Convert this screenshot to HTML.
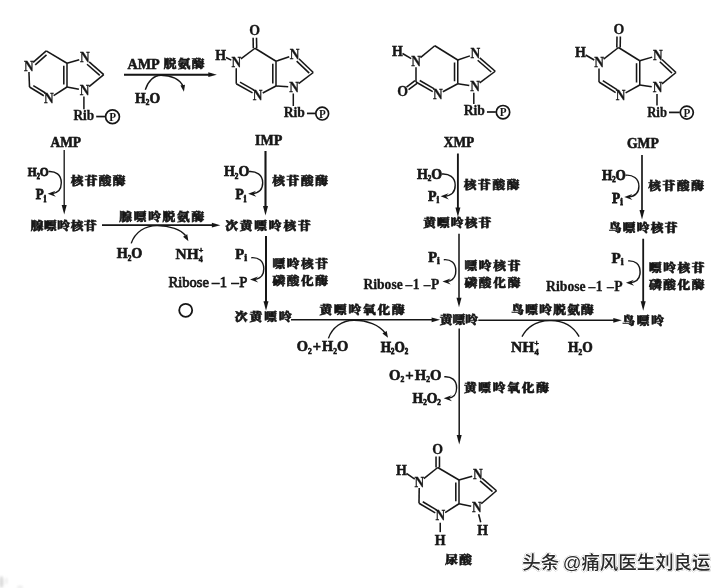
<!DOCTYPE html>
<html lang="zh"><head><meta charset="utf-8"><title>嘌呤核苷酸的分解代谢</title>
<style>
html,body{margin:0;padding:0;background:#fff;}
svg{display:block}
svg line,svg path,svg circle{stroke:#161616;stroke-linecap:butt}
text{fill:#161616;font-family:"Liberation Serif","Noto Serif CJK SC",serif;}
.lb{font-size:15px;font-weight:bold;stroke:#161616;stroke-width:.6px}
.l{font-size:12px;font-weight:bold;stroke:#161616;stroke-width:.5px}
.r{font-size:14.5px;stroke:#161616;stroke-width:.75px}
.rb{font-weight:bold;stroke-width:.3px}
.rib{font-size:13.8px;font-weight:bold;stroke:#161616;stroke-width:.3px}
.at.ath{font-size:15.5px;stroke-width:.5px}
.pin{font-size:12px;font-weight:bold}
.at{font-size:14.5px;font-weight:bold;stroke:#161616;stroke-width:.3px}
.c{font-family:"Noto Serif CJK SC","Liberation Serif",serif;font-size:12.7px;font-weight:900;stroke:#161616;stroke-width:.7px}
.wm{font-family:"Liberation Sans","Noto Sans CJK SC",sans-serif;font-size:18.45px;font-weight:500;fill:#2a2a2a;paint-order:stroke;stroke:#fff;stroke-width:2.2px;stroke-linejoin:round;filter:drop-shadow(0.9px 0.9px 0.5px rgba(0,0,0,.5))}
</style></head>
<body>
<svg width="728" height="588" viewBox="0 0 728 588">
<defs><filter id="soft" x="0" y="0" width="100%" height="100%"><feGaussianBlur stdDeviation="0.4"/></filter><filter id="soft2" x="-100%" y="-100%" width="300%" height="300%"><feGaussianBlur stdDeviation="0.9"/></filter></defs>
<rect width="728" height="588" fill="#fff"/>
<ellipse cx="1.5" cy="582" rx="2.2" ry="6" fill="#dcdcdc" filter="url(#soft2)"/>
<ellipse cx="6.5" cy="581" rx="0.8" ry="3.5" fill="#e6e6e6" filter="url(#soft2)"/>
<ellipse cx="20" cy="587" rx="3" ry="1.5" fill="#ececec" filter="url(#soft2)"/>
<g filter="url(#soft)">
<line x1="33.11" y1="62.43" x2="46.25" y2="50.90" stroke-width="1.55"/>
<line x1="35.22" y1="64.83" x2="46.48" y2="54.95" stroke-width="1.55"/>
<line x1="46.25" y1="50.90" x2="67.00" y2="63.25" stroke-width="1.55"/>
<line x1="67.00" y1="63.25" x2="67.00" y2="87.00" stroke-width="1.55"/>
<line x1="63.80" y1="65.75" x2="63.80" y2="84.50" stroke-width="1.55"/>
<line x1="67.00" y1="87.00" x2="53.63" y2="95.61" stroke-width="1.55"/>
<line x1="43.80" y1="95.73" x2="29.50" y2="87.00" stroke-width="1.55"/>
<line x1="45.47" y1="93.00" x2="33.30" y2="85.57" stroke-width="1.55"/>
<line x1="29.50" y1="87.00" x2="28.96" y2="72.05" stroke-width="1.55"/>
<line x1="67.00" y1="63.25" x2="79.24" y2="59.64" stroke-width="1.55"/>
<line x1="89.16" y1="61.82" x2="103.75" y2="74.60" stroke-width="1.55"/>
<line x1="87.05" y1="64.23" x2="99.76" y2="75.36" stroke-width="1.55"/>
<line x1="103.75" y1="74.60" x2="89.07" y2="86.71" stroke-width="1.55"/>
<line x1="78.91" y1="89.30" x2="67.00" y2="87.00" stroke-width="1.55"/>
<text x="23.90" y="70.63" class="at" text-anchor="start" textLength="9.70" lengthAdjust="spacingAndGlyphs">N</text>
<text x="43.90" y="103.13" class="at" text-anchor="start" textLength="9.70" lengthAdjust="spacingAndGlyphs">N</text>
<text x="79.95" y="62.38" class="at" text-anchor="start" textLength="9.70" lengthAdjust="spacingAndGlyphs">N</text>
<text x="79.75" y="94.78" class="at" text-anchor="start" textLength="9.70" lengthAdjust="spacingAndGlyphs">N</text>
<line x1="83.90" y1="96.50" x2="83.90" y2="109.25" stroke-width="1.5"/>
<text x="73.45" y="120.35" class="rib" text-anchor="start" textLength="20.75" lengthAdjust="spacingAndGlyphs">Rib</text>
<line x1="96.20" y1="116.55" x2="105.10" y2="116.55" stroke-width="1.7"/>
<circle cx="112.5" cy="116.75" r="6.9" fill="none" stroke-width="1.7"/>
<text x="109.20" y="120.85" class="pin" text-anchor="start" textLength="6.80" lengthAdjust="spacingAndGlyphs">P</text>
<line x1="253.30" y1="48.28" x2="253.12" y2="37.83" stroke-width="1.55"/>
<line x1="256.70" y1="48.22" x2="256.52" y2="37.77" stroke-width="1.55"/>
<line x1="255.00" y1="48.25" x2="240.87" y2="58.95" stroke-width="1.55"/>
<line x1="231.29" y1="60.08" x2="225.96" y2="57.54" stroke-width="1.55"/>
<line x1="236.25" y1="68.25" x2="236.25" y2="83.75" stroke-width="1.55"/>
<line x1="236.25" y1="83.75" x2="252.54" y2="92.87" stroke-width="1.55"/>
<line x1="239.99" y1="82.18" x2="254.10" y2="90.07" stroke-width="1.55"/>
<line x1="262.73" y1="93.00" x2="276.00" y2="86.00" stroke-width="1.55"/>
<line x1="276.00" y1="86.00" x2="276.00" y2="61.25" stroke-width="1.55"/>
<line x1="272.80" y1="83.50" x2="272.80" y2="63.75" stroke-width="1.55"/>
<line x1="276.00" y1="61.25" x2="255.00" y2="48.25" stroke-width="1.55"/>
<line x1="276.00" y1="61.25" x2="289.22" y2="56.69" stroke-width="1.55"/>
<line x1="298.90" y1="58.80" x2="313.25" y2="72.50" stroke-width="1.55"/>
<line x1="296.69" y1="61.12" x2="309.23" y2="73.09" stroke-width="1.55"/>
<line x1="313.25" y1="72.50" x2="298.61" y2="83.68" stroke-width="1.55"/>
<line x1="288.21" y1="86.81" x2="276.00" y2="86.00" stroke-width="1.55"/>
<text x="249.30" y="35.38" class="at" text-anchor="start" textLength="10.80" lengthAdjust="spacingAndGlyphs">O</text>
<text x="231.40" y="66.83" class="at" text-anchor="start" textLength="9.70" lengthAdjust="spacingAndGlyphs">N</text>
<text x="215.15" y="59.95" class="at ath" text-anchor="start" textLength="10.80" lengthAdjust="spacingAndGlyphs">H</text>
<text x="252.75" y="100.08" class="at" text-anchor="start" textLength="9.70" lengthAdjust="spacingAndGlyphs">N</text>
<text x="289.85" y="59.18" class="at" text-anchor="start" textLength="9.70" lengthAdjust="spacingAndGlyphs">N</text>
<text x="289.15" y="91.58" class="at" text-anchor="start" textLength="9.70" lengthAdjust="spacingAndGlyphs">N</text>
<line x1="293.30" y1="93.50" x2="293.30" y2="106.00" stroke-width="1.5"/>
<text x="283.70" y="117.10" class="rib" text-anchor="start" textLength="21.25" lengthAdjust="spacingAndGlyphs">Rib</text>
<line x1="306.95" y1="113.40" x2="315.30" y2="113.40" stroke-width="1.7"/>
<circle cx="322.2" cy="113.6" r="6.4" fill="none" stroke-width="1.7"/>
<text x="318.90" y="117.70" class="pin" text-anchor="start" textLength="6.80" lengthAdjust="spacingAndGlyphs">P</text>
<line x1="411.25" y1="58.63" x2="402.48" y2="53.52" stroke-width="1.55"/>
<line x1="420.46" y1="57.69" x2="434.80" y2="45.75" stroke-width="1.55"/>
<line x1="434.80" y1="45.75" x2="457.75" y2="60.00" stroke-width="1.55"/>
<line x1="457.75" y1="60.00" x2="457.75" y2="83.75" stroke-width="1.55"/>
<line x1="454.55" y1="62.50" x2="454.55" y2="81.25" stroke-width="1.55"/>
<line x1="457.75" y1="83.75" x2="442.86" y2="91.75" stroke-width="1.55"/>
<line x1="432.72" y1="91.61" x2="416.00" y2="82.00" stroke-width="1.55"/>
<line x1="434.32" y1="88.84" x2="419.76" y2="80.47" stroke-width="1.55"/>
<line x1="416.00" y1="82.00" x2="416.00" y2="67.20" stroke-width="1.55"/>
<line x1="417.02" y1="83.36" x2="408.56" y2="89.74" stroke-width="1.55"/>
<line x1="414.98" y1="80.64" x2="406.52" y2="87.03" stroke-width="1.55"/>
<line x1="457.75" y1="60.00" x2="469.91" y2="55.87" stroke-width="1.55"/>
<line x1="479.78" y1="57.80" x2="495.25" y2="71.25" stroke-width="1.55"/>
<line x1="477.68" y1="60.22" x2="491.26" y2="72.03" stroke-width="1.55"/>
<line x1="495.25" y1="71.25" x2="479.64" y2="82.93" stroke-width="1.55"/>
<line x1="469.27" y1="85.52" x2="457.75" y2="83.75" stroke-width="1.55"/>
<text x="391.90" y="55.50" class="at ath" text-anchor="start" textLength="10.80" lengthAdjust="spacingAndGlyphs">H</text>
<text x="411.15" y="65.78" class="at" text-anchor="start" textLength="9.70" lengthAdjust="spacingAndGlyphs">N</text>
<text x="432.90" y="98.88" class="at" text-anchor="start" textLength="9.70" lengthAdjust="spacingAndGlyphs">N</text>
<text x="397.35" y="96.38" class="at" text-anchor="start" textLength="10.80" lengthAdjust="spacingAndGlyphs">O</text>
<text x="470.55" y="58.38" class="at" text-anchor="start" textLength="9.70" lengthAdjust="spacingAndGlyphs">N</text>
<text x="470.15" y="90.78" class="at" text-anchor="start" textLength="9.70" lengthAdjust="spacingAndGlyphs">N</text>
<line x1="473.80" y1="92.75" x2="473.80" y2="103.90" stroke-width="1.5"/>
<text x="463.70" y="115.00" class="rib" text-anchor="start" textLength="21.25" lengthAdjust="spacingAndGlyphs">Rib</text>
<line x1="486.95" y1="112.00" x2="495.80" y2="112.00" stroke-width="1.7"/>
<circle cx="503" cy="112.2" r="6.7" fill="none" stroke-width="1.7"/>
<text x="499.70" y="116.30" class="pin" text-anchor="start" textLength="6.80" lengthAdjust="spacingAndGlyphs">P</text>
<line x1="616.80" y1="47.47" x2="616.99" y2="36.52" stroke-width="1.55"/>
<line x1="620.20" y1="47.53" x2="620.38" y2="36.58" stroke-width="1.55"/>
<line x1="618.50" y1="47.50" x2="603.57" y2="59.18" stroke-width="1.55"/>
<line x1="594.24" y1="59.99" x2="585.64" y2="55.01" stroke-width="1.55"/>
<line x1="599.00" y1="68.55" x2="599.00" y2="82.00" stroke-width="1.55"/>
<line x1="599.00" y1="82.00" x2="615.66" y2="92.59" stroke-width="1.55"/>
<line x1="602.83" y1="80.64" x2="617.37" y2="89.89" stroke-width="1.55"/>
<line x1="625.62" y1="92.88" x2="639.75" y2="85.00" stroke-width="1.55"/>
<line x1="639.75" y1="85.00" x2="639.75" y2="60.75" stroke-width="1.55"/>
<line x1="636.55" y1="82.50" x2="636.55" y2="63.25" stroke-width="1.55"/>
<line x1="639.75" y1="60.75" x2="618.50" y2="47.50" stroke-width="1.55"/>
<line x1="639.75" y1="60.75" x2="652.18" y2="57.12" stroke-width="1.55"/>
<line x1="661.99" y1="59.45" x2="676.00" y2="72.50" stroke-width="1.55"/>
<line x1="659.81" y1="61.79" x2="671.99" y2="73.14" stroke-width="1.55"/>
<line x1="676.00" y1="72.50" x2="661.99" y2="83.93" stroke-width="1.55"/>
<line x1="651.76" y1="86.76" x2="639.75" y2="85.00" stroke-width="1.55"/>
<text x="613.40" y="34.13" class="at" text-anchor="start" textLength="10.80" lengthAdjust="spacingAndGlyphs">O</text>
<text x="594.15" y="67.13" class="at" text-anchor="start" textLength="9.70" lengthAdjust="spacingAndGlyphs">N</text>
<text x="575.05" y="57.00" class="at ath" text-anchor="start" textLength="10.80" lengthAdjust="spacingAndGlyphs">H</text>
<text x="615.70" y="100.08" class="at" text-anchor="start" textLength="9.70" lengthAdjust="spacingAndGlyphs">N</text>
<text x="652.90" y="59.88" class="at" text-anchor="start" textLength="9.70" lengthAdjust="spacingAndGlyphs">N</text>
<text x="652.65" y="91.98" class="at" text-anchor="start" textLength="9.70" lengthAdjust="spacingAndGlyphs">N</text>
<line x1="657.00" y1="94.00" x2="657.00" y2="105.50" stroke-width="1.5"/>
<text x="647.20" y="116.60" class="rib" text-anchor="start" textLength="19.80" lengthAdjust="spacingAndGlyphs">Rib</text>
<line x1="669.00" y1="112.40" x2="679.80" y2="112.40" stroke-width="1.7"/>
<circle cx="686.8" cy="112.6" r="6.5" fill="none" stroke-width="1.7"/>
<text x="683.50" y="116.70" class="pin" text-anchor="start" textLength="6.80" lengthAdjust="spacingAndGlyphs">P</text>
<line x1="436.05" y1="467.50" x2="436.05" y2="456.45" stroke-width="1.55"/>
<line x1="439.45" y1="467.50" x2="439.45" y2="456.45" stroke-width="1.55"/>
<line x1="437.75" y1="467.50" x2="423.84" y2="478.54" stroke-width="1.55"/>
<line x1="414.76" y1="479.05" x2="406.46" y2="473.38" stroke-width="1.55"/>
<line x1="419.22" y1="487.95" x2="419.00" y2="503.25" stroke-width="1.55"/>
<line x1="419.00" y1="503.25" x2="435.25" y2="512.81" stroke-width="1.55"/>
<line x1="422.78" y1="501.76" x2="436.87" y2="510.05" stroke-width="1.55"/>
<line x1="445.14" y1="512.62" x2="459.00" y2="503.75" stroke-width="1.55"/>
<line x1="459.00" y1="503.75" x2="459.00" y2="480.00" stroke-width="1.55"/>
<line x1="455.80" y1="501.25" x2="455.80" y2="482.50" stroke-width="1.55"/>
<line x1="459.00" y1="480.00" x2="437.75" y2="467.50" stroke-width="1.55"/>
<line x1="459.00" y1="480.00" x2="472.17" y2="476.24" stroke-width="1.55"/>
<line x1="482.15" y1="478.43" x2="496.50" y2="490.75" stroke-width="1.55"/>
<line x1="480.07" y1="480.86" x2="492.52" y2="491.55" stroke-width="1.55"/>
<line x1="496.50" y1="490.75" x2="481.26" y2="503.74" stroke-width="1.55"/>
<line x1="471.17" y1="506.31" x2="459.00" y2="503.75" stroke-width="1.55"/>
<line x1="440.25" y1="522.75" x2="440.25" y2="532.15" stroke-width="1.55"/>
<line x1="478.63" y1="514.27" x2="480.72" y2="522.26" stroke-width="1.55"/>
<text x="432.35" y="454.04" class="at" text-anchor="start" textLength="10.80" lengthAdjust="spacingAndGlyphs">O</text>
<text x="414.45" y="486.54" class="at" text-anchor="start" textLength="9.70" lengthAdjust="spacingAndGlyphs">N</text>
<text x="396.10" y="475.00" class="at ath" text-anchor="start" textLength="10.80" lengthAdjust="spacingAndGlyphs">H</text>
<text x="435.40" y="520.13" class="at" text-anchor="start" textLength="9.70" lengthAdjust="spacingAndGlyphs">N</text>
<text x="434.85" y="544.65" class="at ath" text-anchor="start" textLength="10.80" lengthAdjust="spacingAndGlyphs">H</text>
<text x="472.90" y="479.04" class="at" text-anchor="start" textLength="9.70" lengthAdjust="spacingAndGlyphs">N</text>
<text x="472.00" y="511.88" class="at" text-anchor="start" textLength="9.70" lengthAdjust="spacingAndGlyphs">N</text>
<text x="477.35" y="535.00" class="at ath" text-anchor="start" textLength="10.80" lengthAdjust="spacingAndGlyphs">H</text>
<text x="50.40" y="147.20" class="lb" text-anchor="start" textLength="30.70" lengthAdjust="spacingAndGlyphs">AMP</text>
<text x="254.95" y="144.70" class="lb" text-anchor="start" textLength="27.35" lengthAdjust="spacingAndGlyphs">IMP</text>
<text x="443.70" y="147.10" class="lb" text-anchor="start" textLength="30.60" lengthAdjust="spacingAndGlyphs">XMP</text>
<text x="626.95" y="148.00" class="lb" text-anchor="start" textLength="31.85" lengthAdjust="spacingAndGlyphs">GMP</text>
<line x1="124.00" y1="74.70" x2="212.00" y2="74.70" stroke-width="2.0"/>
<polygon points="216.80,74.70 208.30,77.10 208.30,72.30" fill="#161616" stroke="none"/>
<text x="127.50" y="69.00" class="l" text-anchor="start" textLength="32.30" lengthAdjust="spacingAndGlyphs" style="font-size:14px;stroke-width:0.56px">AMP</text>
<text transform="translate(163.80,68.10) scale(1,0.93)" class="c" textLength="40.60" lengthAdjust="spacing">脱氨酶</text>
<text x="135.10" y="102.80" class="l" text-anchor="start" textLength="24.90" lengthAdjust="spacingAndGlyphs" style="font-size:14px;stroke-width:0.65px">H<tspan dy="2.6" font-size="7.5">2</tspan><tspan dy="-2.6">O</tspan></text>
<path d="M145.3,89.8 C148,81 154,75.2 161,75.2 C171,75.2 180.5,79.5 183,86.5" stroke-width="1.4" fill="none"/>
<polygon points="183.90,91.80 180.45,85.50 184.98,84.70" fill="#161616" stroke="none"/>
<line x1="64.20" y1="150.00" x2="64.20" y2="208.50" stroke-width="1.35"/>
<polygon points="64.20,214.50 61.70,205.00 66.70,205.00" fill="#161616" stroke="none"/>
<text x="27.70" y="176.00" class="l" text-anchor="start" textLength="21.10" lengthAdjust="spacingAndGlyphs" style="font-size:13.5px;stroke-width:0.82px">H<tspan dy="2.6" font-size="7.5">2</tspan><tspan dy="-2.6">O</tspan></text>
<text x="35.80" y="199.40" class="l" text-anchor="start" textLength="10.40" lengthAdjust="spacingAndGlyphs" style="font-size:14.5px;stroke-width:0.81px">P<tspan dy="2.4" font-size="10">i</tspan></text>
<text transform="translate(70.80,185.30) scale(1,0.93)" class="c" textLength="54.60" lengthAdjust="spacing">核苷酸酶</text>
<path d="M48.50,171.50 C55.50,171.00 61.30,174.50 61.30,182.75 C61.30,190.50 57.60,193.20 51.60,193.70" stroke-width="1.4" fill="none"/>
<polygon points="47.60,193.70 55.60,190.70 52.80,193.60 55.80,196.80" fill="#161616" stroke="none"/>
<line x1="265.50" y1="151.00" x2="265.50" y2="209.50" stroke-width="2.1"/>
<polygon points="265.50,215.50 263.00,206.00 268.00,206.00" fill="#161616" stroke="none"/>
<text x="224.00" y="176.00" class="l" text-anchor="start" textLength="25.30" lengthAdjust="spacingAndGlyphs" style="font-size:14.5px;stroke-width:0.68px">H<tspan dy="2.6" font-size="7.5">2</tspan><tspan dy="-2.6">O</tspan></text>
<text x="235.50" y="199.40" class="l" text-anchor="start" textLength="10.80" lengthAdjust="spacingAndGlyphs" style="font-size:14.5px;stroke-width:0.76px">P<tspan dy="2.4" font-size="10">i</tspan></text>
<text transform="translate(272.30,185.30) scale(1,0.93)" class="c" textLength="55.60" lengthAdjust="spacing">核苷酸酶</text>
<path d="M249.00,171.50 C256.00,171.00 262.70,174.50 262.70,182.75 C262.70,190.50 258.10,193.20 252.10,193.70" stroke-width="1.4" fill="none"/>
<polygon points="248.10,193.70 256.10,190.70 253.30,193.60 256.30,196.80" fill="#161616" stroke="none"/>
<line x1="457.90" y1="153.50" x2="457.90" y2="211.00" stroke-width="1.9"/>
<polygon points="457.90,217.00 455.40,207.50 460.40,207.50" fill="#161616" stroke="none"/>
<text x="416.90" y="178.50" class="l" text-anchor="start" textLength="25.30" lengthAdjust="spacingAndGlyphs" style="font-size:14.5px;stroke-width:0.68px">H<tspan dy="2.6" font-size="7.5">2</tspan><tspan dy="-2.6">O</tspan></text>
<text x="428.00" y="201.00" class="l" text-anchor="start" textLength="11.20" lengthAdjust="spacingAndGlyphs" style="font-size:14.5px;stroke-width:0.71px">P<tspan dy="2.4" font-size="10">i</tspan></text>
<text transform="translate(463.80,189.00) scale(1,0.93)" class="c" textLength="55.60" lengthAdjust="spacing">核苷酸酶</text>
<path d="M441.90,174.00 C448.90,173.50 455.20,177.00 455.20,185.30 C455.20,193.10 450.60,195.80 444.60,196.30" stroke-width="1.4" fill="none"/>
<polygon points="440.60,196.30 448.60,193.30 445.80,196.20 448.80,199.40" fill="#161616" stroke="none"/>
<line x1="642.00" y1="155.00" x2="642.00" y2="213.50" stroke-width="1.7"/>
<polygon points="642.00,219.50 639.50,210.00 644.50,210.00" fill="#161616" stroke="none"/>
<text x="601.90" y="179.70" class="l" text-anchor="start" textLength="24.00" lengthAdjust="spacingAndGlyphs" style="font-size:14.5px;stroke-width:0.75px">H<tspan dy="2.6" font-size="7.5">2</tspan><tspan dy="-2.6">O</tspan></text>
<text x="612.10" y="202.70" class="l" text-anchor="start" textLength="10.80" lengthAdjust="spacingAndGlyphs" style="font-size:14.5px;stroke-width:0.76px">P<tspan dy="2.4" font-size="10">i</tspan></text>
<text transform="translate(648.30,190.25) scale(1,0.93)" class="c" textLength="55.60" lengthAdjust="spacing">核苷酸酶</text>
<path d="M625.60,175.20 C632.60,174.70 638.90,178.20 638.90,186.25 C638.90,193.80 634.30,196.50 628.30,197.00" stroke-width="1.4" fill="none"/>
<polygon points="624.30,197.00 632.30,194.00 629.50,196.90 632.50,200.10" fill="#161616" stroke="none"/>
<text transform="translate(30.80,230.00) scale(1,0.93)" class="c" textLength="65.85" lengthAdjust="spacing">腺嘌呤核苷</text>
<text transform="translate(225.20,230.00) scale(1,0.93)" class="c" textLength="85.50" lengthAdjust="spacing">次黄嘌呤核苷</text>
<text transform="translate(423.20,227.30) scale(1,0.93)" class="c" textLength="68.00" lengthAdjust="spacing">黄嘌呤核苷</text>
<text transform="translate(608.70,231.50) scale(1,0.93)" class="c" textLength="68.70" lengthAdjust="spacing">鸟嘌呤核苷</text>
<line x1="102.00" y1="225.15" x2="215.60" y2="225.15" stroke-width="1.8"/>
<polygon points="220.40,225.15 211.90,227.55 211.90,222.75" fill="#161616" stroke="none"/>
<text transform="translate(119.30,220.50) scale(1,0.93)" class="c" textLength="84.85" lengthAdjust="spacing">腺嘌呤脱氨酶</text>
<text x="116.70" y="258.20" class="l" text-anchor="start" textLength="25.60" lengthAdjust="spacingAndGlyphs" style="font-size:14.5px;stroke-width:0.66px">H<tspan dy="2.6" font-size="7.5">2</tspan><tspan dy="-2.6">O</tspan></text>
<text x="175.60" y="258.60" class="l" text-anchor="start" textLength="27.70" lengthAdjust="spacingAndGlyphs" style="font-size:14.5px;stroke-width:0.53px">NH<tspan dy="3.2" font-size="7.5">4</tspan><tspan dx="-3.8" dy="-8.7" font-size="7.5">+</tspan></text>
<path d="M131.2,243.4 C135,232 145,225.6 157,225.6 C170,225.6 181,229.5 185.5,235.5" stroke-width="1.4" fill="none"/>
<polygon points="188.40,241.20 183.07,236.77 187.23,234.37" fill="#161616" stroke="none"/>
<line x1="266.00" y1="236.00" x2="266.00" y2="304.75" stroke-width="2.0"/>
<polygon points="266.00,310.75 263.50,301.25 268.50,301.25" fill="#161616" stroke="none"/>
<text x="235.30" y="259.00" class="l" text-anchor="start" textLength="11.70" lengthAdjust="spacingAndGlyphs" style="font-size:14.5px;stroke-width:0.64px">P<tspan dy="2.4" font-size="10">i</tspan></text>
<text x="168.60" y="286.60" class="r" text-anchor="start" textLength="78.80" lengthAdjust="spacingAndGlyphs">Ribose<tspan dx='3'>–</tspan><tspan dx='0.5'>1</tspan><tspan dx='4.5'>–</tspan><tspan dx='0.5'>P</tspan></text>
<text transform="translate(272.40,267.70) scale(1,0.93)" class="c" textLength="55.50" lengthAdjust="spacing">嘌呤核苷</text>
<text transform="translate(272.40,284.90) scale(1,0.93)" class="c" textLength="55.50" lengthAdjust="spacing">磷酸化酶</text>
<path d="M251.30,257.70 C258.30,257.20 263.80,260.70 263.80,268.75 C263.80,276.30 260.00,279.00 254.00,279.50" stroke-width="1.4" fill="none"/>
<polygon points="250.00,279.50 258.00,276.50 255.20,279.40 258.20,282.60" fill="#161616" stroke="none"/>
<line x1="459.00" y1="233.75" x2="459.00" y2="301.20" stroke-width="1.5"/>
<polygon points="459.00,307.20 456.50,297.70 461.50,297.70" fill="#161616" stroke="none"/>
<text x="428.20" y="262.00" class="l" text-anchor="start" textLength="11.60" lengthAdjust="spacingAndGlyphs" style="font-size:14.5px;stroke-width:0.66px">P<tspan dy="2.4" font-size="10">i</tspan></text>
<text x="363.45" y="288.60" class="r rb" text-anchor="start" textLength="75.95" lengthAdjust="spacingAndGlyphs">Ribose<tspan dx='3'>–</tspan><tspan dx='0.5'>1</tspan><tspan dx='4.5'>–</tspan><tspan dx='0.5'>P</tspan></text>
<text transform="translate(464.40,270.10) scale(1,0.93)" class="c" textLength="56.00" lengthAdjust="spacing">嘌呤核苷</text>
<text transform="translate(464.40,286.90) scale(1,0.93)" class="c" textLength="56.00" lengthAdjust="spacing">磷酸化酶</text>
<path d="M443.80,259.70 C450.80,259.20 455.80,262.70 455.80,270.75 C455.80,278.30 452.50,281.00 446.50,281.50" stroke-width="1.4" fill="none"/>
<polygon points="442.50,281.50 450.50,278.50 447.70,281.40 450.70,284.60" fill="#161616" stroke="none"/>
<line x1="643.20" y1="238.75" x2="643.20" y2="304.75" stroke-width="1.8"/>
<polygon points="643.20,310.75 640.70,301.25 645.70,301.25" fill="#161616" stroke="none"/>
<text x="611.60" y="262.60" class="l" text-anchor="start" textLength="12.10" lengthAdjust="spacingAndGlyphs" style="font-size:14.5px;stroke-width:0.59px">P<tspan dy="2.4" font-size="10">i</tspan></text>
<text x="546.10" y="290.60" class="r rb" text-anchor="start" textLength="76.50" lengthAdjust="spacingAndGlyphs">Ribose<tspan dx='3'>–</tspan><tspan dx='0.5'>1</tspan><tspan dx='4.5'>–</tspan><tspan dx='0.5'>P</tspan></text>
<text transform="translate(648.90,271.60) scale(1,0.93)" class="c" textLength="55.50" lengthAdjust="spacing">嘌呤核苷</text>
<text transform="translate(648.90,289.00) scale(1,0.93)" class="c" textLength="55.50" lengthAdjust="spacing">磷酸化酶</text>
<path d="M628.10,260.90 C635.10,260.40 640.10,263.90 640.10,271.95 C640.10,279.50 635.90,282.20 629.90,282.70" stroke-width="1.4" fill="none"/>
<polygon points="625.90,282.70 633.90,279.70 631.10,282.60 634.10,285.80" fill="#161616" stroke="none"/>
<circle cx="185.7" cy="310.3" r="6.5" fill="none" stroke-width="1.8"/>
<text transform="translate(234.80,321.10) scale(1,0.93)" class="c" textLength="56.85" lengthAdjust="spacing">次黄嘌呤</text>
<text transform="translate(439.80,323.70) scale(1,0.93)" class="c" textLength="38.20" lengthAdjust="spacing">黄嘌呤</text>
<text transform="translate(622.20,325.00) scale(1,0.93)" class="c" textLength="41.70" lengthAdjust="spacing">鸟嘌呤</text>
<line x1="291.00" y1="319.80" x2="435.30" y2="319.80" stroke-width="1.45"/>
<polygon points="440.10,319.80 431.60,322.20 431.60,317.40" fill="#161616" stroke="none"/>
<text transform="translate(319.60,313.50) scale(1,0.93)" class="c" textLength="85.10" lengthAdjust="spacing">黄嘌呤氧化酶</text>
<text x="296.80" y="351.40" class="l" text-anchor="start" textLength="51.50" lengthAdjust="spacingAndGlyphs" style="font-size:14.5px;stroke-width:0.60px">O<tspan dy="2.6" font-size="7.5">2</tspan><tspan dy="-2.6" dx="1">+</tspan><tspan dx="1">H</tspan><tspan dy="2.6" font-size="7.5">2</tspan><tspan dy="-2.6">O</tspan></text>
<text x="380.70" y="351.70" class="l" text-anchor="start" textLength="27.50" lengthAdjust="spacingAndGlyphs" style="font-size:14.5px;stroke-width:0.77px">H<tspan dy="2.6" font-size="7.5">2</tspan><tspan dy="-2.6">O</tspan><tspan dy="2.6" font-size="7.5">2</tspan></text>
<path d="M328.4,338.4 C332,327.5 342,320.2 354,320.2 C367,320.2 379.5,325 385,333" stroke-width="1.4" fill="none"/>
<polygon points="388.00,337.80 382.44,333.61 386.68,330.96" fill="#161616" stroke="none"/>
<line x1="478.30" y1="320.30" x2="617.00" y2="320.30" stroke-width="1.6"/>
<polygon points="621.80,320.30 613.30,322.70 613.30,317.90" fill="#161616" stroke="none"/>
<text transform="translate(511.30,313.90) scale(1,0.93)" class="c" textLength="82.50" lengthAdjust="spacing">鸟嘌呤脱氨酶</text>
<text x="510.90" y="351.60" class="l" text-anchor="start" textLength="28.30" lengthAdjust="spacingAndGlyphs" style="font-size:13.8px;stroke-width:0.50px">NH<tspan dy="3.2" font-size="7.5">4</tspan><tspan dx="-3.8" dy="-8.7" font-size="7.5">+</tspan></text>
<text x="568.10" y="352.00" class="l" text-anchor="start" textLength="24.60" lengthAdjust="spacingAndGlyphs" style="font-size:13.8px;stroke-width:0.65px">H<tspan dy="2.6" font-size="7.5">2</tspan><tspan dy="-2.6">O</tspan></text>
<path d="M522,336.6 C528,325.5 538,320.6 550.5,320.6 C563,320.6 573,325.5 579.1,336.6" stroke-width="1.4" fill="none"/>
<line x1="459.20" y1="328.50" x2="459.20" y2="438.50" stroke-width="1.5"/>
<polygon points="459.20,444.50 456.70,435.00 461.70,435.00" fill="#161616" stroke="none"/>
<text x="389.00" y="379.50" class="l" text-anchor="start" textLength="52.50" lengthAdjust="spacingAndGlyphs" style="font-size:14.5px;stroke-width:0.58px">O<tspan dy="2.6" font-size="7.5">2</tspan><tspan dy="-2.6" dx="1">+</tspan><tspan dx="1">H</tspan><tspan dy="2.6" font-size="7.5">2</tspan><tspan dy="-2.6">O</tspan></text>
<text x="412.50" y="402.80" class="l" text-anchor="start" textLength="28.40" lengthAdjust="spacingAndGlyphs" style="font-size:14.5px;stroke-width:0.72px">H<tspan dy="2.6" font-size="7.5">2</tspan><tspan dy="-2.6">O</tspan><tspan dy="2.6" font-size="7.5">2</tspan></text>
<text transform="translate(463.90,391.75) scale(1,0.93)" class="c" textLength="85.00" lengthAdjust="spacing">黄嘌呤氧化酶</text>
<path d="M444.30,376.80 C451.30,376.30 456.60,379.80 456.60,387.65 C456.60,395.00 453.70,397.70 447.70,398.20" stroke-width="1.4" fill="none"/>
<polygon points="443.70,398.20 451.70,395.20 448.90,398.10 451.90,401.30" fill="#161616" stroke="none"/>
<text transform="translate(445.05,564.25) scale(1,0.93)" class="c" textLength="26.85" lengthAdjust="spacing">尿酸</text>
<text x="522.3" y="569.2" class="wm">头条<tspan dx="3.5">@</tspan>痛风医生刘良运</text>
</g>
</svg>
</body></html>
